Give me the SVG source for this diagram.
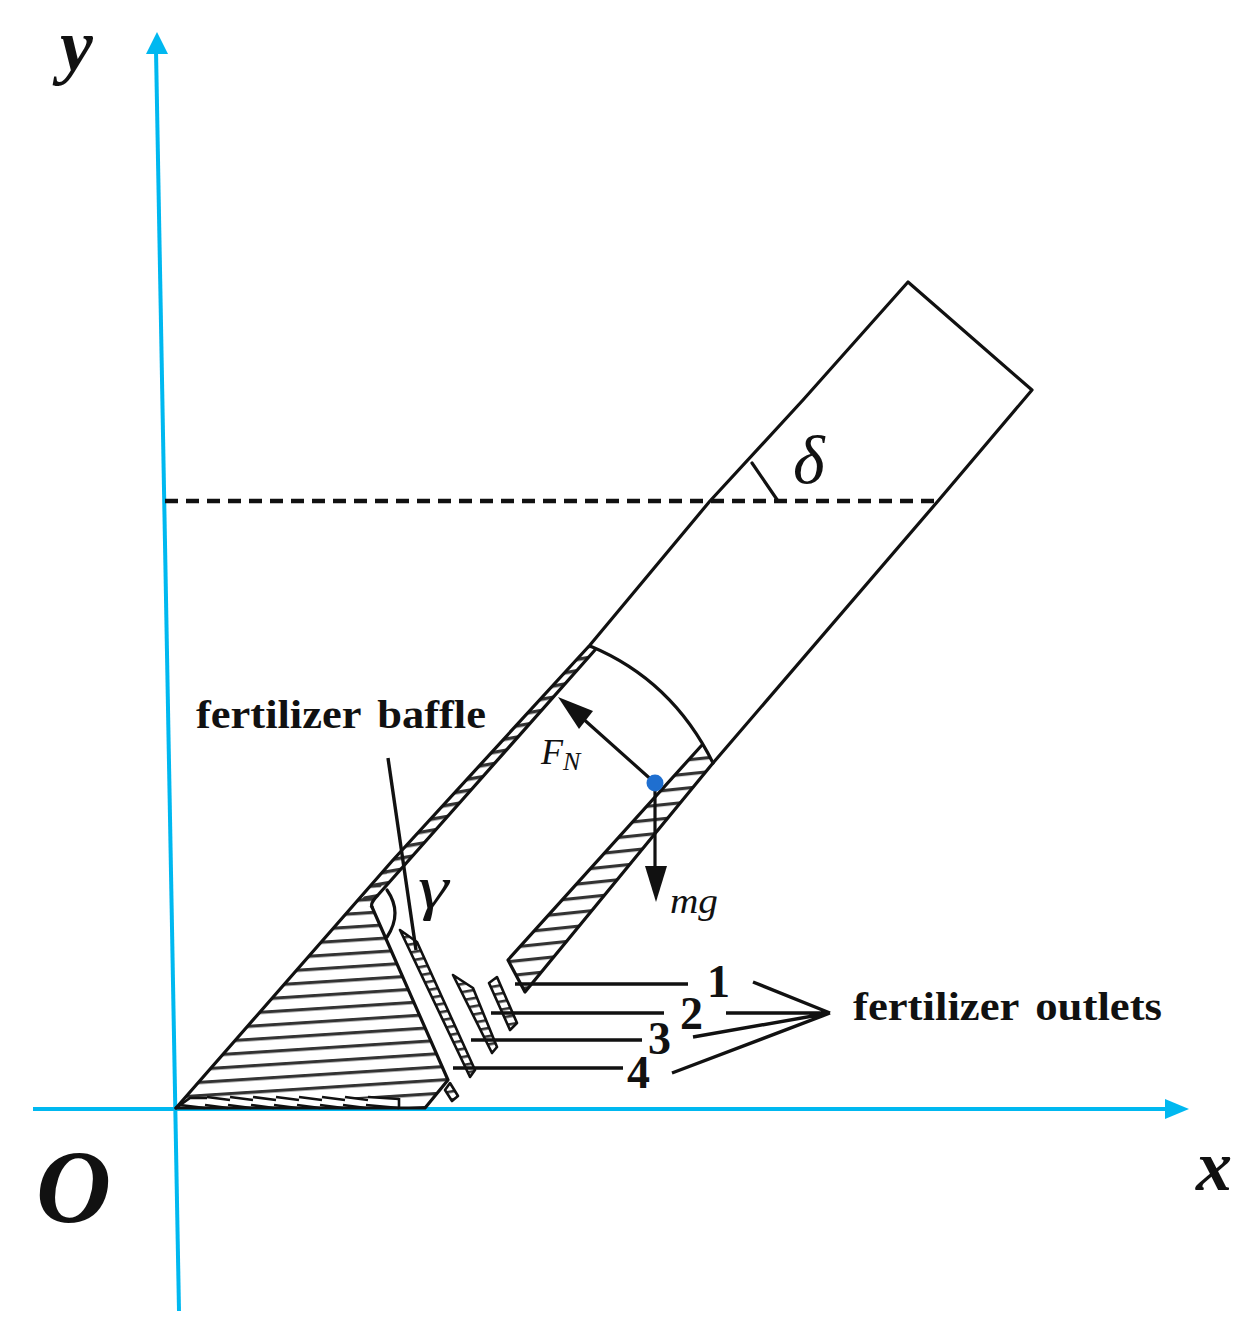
<svg xmlns="http://www.w3.org/2000/svg" width="1260" height="1342" viewBox="0 0 1260 1342">
<style>
.ax{stroke:#00b8f0;stroke-width:4;fill:none}
.ln{stroke:#111;stroke-width:3.2;fill:none;stroke-linecap:round;stroke-linejoin:round}
.th{stroke:#111;stroke-width:2.6;fill:none;stroke-linejoin:round}
.ld{stroke:#111;stroke-width:3.4;fill:none}
.lb{font-family:"Liberation Serif",serif;font-weight:bold;fill:#111}
.it{font-family:"Liberation Serif",serif;font-style:italic;fill:#111}
</style>
<defs>
<pattern id="h1" width="100" height="13.2" patternUnits="userSpaceOnUse" patternTransform="rotate(-3.7 176 1108)"><rect y="0" width="100" height="3.2" fill="#333"/></pattern>
<pattern id="h2" width="100" height="14" patternUnits="userSpaceOnUse" patternTransform="rotate(-6)"><rect width="100" height="3.2" fill="#333"/></pattern>
<pattern id="h3" width="100" height="11" patternUnits="userSpaceOnUse" patternTransform="rotate(-10)"><rect width="100" height="3.4" fill="#333"/></pattern>
<pattern id="h4" width="100" height="8" patternUnits="userSpaceOnUse" patternTransform="rotate(-10)"><rect width="100" height="2.6" fill="#333"/></pattern>
</defs>
<g id="axes">
<path class="ax" d="M179 1311 156 50"/>
<path class="ax" d="M33 1109H1170"/>
<path d="M157 32 168 54 146 54Z" fill="#00b8f0"/>
<path d="M1189 1109 1165 1099 1165 1119Z" fill="#00b8f0"/>
</g>
<g id="hopper">
<path d="M176 1108 393 860 372 907 448 1080 425 1108Z" fill="url(#h1)"/>
<path d="M178 1108 205 1098H399V1108Z" fill="#fff"/>
<path class="th" d="M176 1108 190 1098H207M399 1098V1108"/>
<path class="th" d="M207 1097 230 1100M230 1097 253 1100M253 1097 276 1100M276 1097 299 1100M299 1097 322 1100M322 1097 345 1100M345 1097 368 1100M368 1097 399 1099"/>
<path class="th" d="M180 1105 205 1108M205 1105 228 1108M228 1105 251 1108M251 1105 274 1108M274 1105 297 1108M297 1105 320 1108M320 1105 343 1108M343 1105 366 1108M366 1105 399 1108"/>
<path class="ln" d="M176 1108H425L448 1080 372 907"/>
</g>
<g id="tube">
<path d="M590 645 595 650 372 901 372 907 358 904 393 860Z" fill="url(#h3)"/>
<path d="M702 745 713 763 525 992 508 960Z" fill="url(#h2)"/>
<path class="ln" d="M176 1108 393 860 590 645 710 501 803 400 908 282 1032 390 938 501 713 763 525 992 508 960 702 745"/>
<path class="ln" d="M595 650 378 895Q370 903 372 907"/>
<path class="ln" d="M590 646Q672 680 713 763"/>
</g>
<g id="plates">
<path d="M400 930 417 942 475 1070 470 1077Z" fill="url(#h4)"/>
<path d="M453 975 473 988 497 1047 492 1053Z" fill="url(#h4)"/>
<path d="M489 983 497 977 517 1023 510 1030Z" fill="url(#h4)"/>
<path d="M445 1090 450 1083 458 1096 452 1101Z" fill="url(#h4)"/>
<path class="th" d="M400 930 417 942 475 1070 470 1077Z"/>
<path class="th" d="M453 975 473 988 497 1047 492 1053Z"/>
<path class="th" d="M489 983 497 977 517 1023 510 1030Z"/>
<path class="th" d="M445 1090 450 1083 458 1096 452 1101Z"/>
</g>
<g id="connectors">
<path class="ld" d="M515 984H688M491 1013H664M471 1040H642M453 1068H623"/>
<path class="ld" d="M753 982 830 1013M726 1013H830M693 1037 830 1013M672 1073 830 1013"/>
<path class="ld" d="M388 758 416 950"/>
<path class="ln" d="M387 890Q403 913 387 937"/>
<path class="ln" d="M752 463 778 501"/>
<path stroke="#111" stroke-width="4.5" stroke-dasharray="13 8" fill="none" d="M165 501H940"/>
</g>
<g id="forces">
<path class="ln" d="M655 783 580 716"/>
<path d="M558 697 593 711 579 729Z" fill="#111"/>
<path class="ln" d="M655 783V870"/>
<path d="M656 902 645 866H667Z" fill="#111"/>
<circle cx="655" cy="783" r="8.5" fill="#1f6fd0"/>
</g>
<g id="labels">
<text class="it" style="font-weight:bold" x="60" y="70" font-size="74">y</text>
<text class="it" style="font-weight:bold" x="1196" y="1190" font-size="72">x</text>
<text class="it" style="font-weight:bold" x="36" y="1222" font-size="104">O</text>
<text class="it" x="793" y="483" font-size="68">δ</text>
<text class="it" transform="translate(418 908) scale(1.25 1)" font-size="62" font-weight="normal">γ</text>
<text class="it" x="541" y="764" font-size="36">F<tspan font-size="26" dy="6">N</tspan></text>
<text class="it" x="670" y="913" font-size="36" textLength="48" lengthAdjust="spacingAndGlyphs">mg</text>
<text class="lb" x="196" y="728" font-size="41" word-spacing="5" textLength="290" lengthAdjust="spacingAndGlyphs">fertilizer baffle</text>
<text class="lb" x="853" y="1020" font-size="41" word-spacing="5" textLength="309" lengthAdjust="spacingAndGlyphs">fertilizer outlets</text>
<text class="lb" x="707" y="997" font-size="46">1</text>
<text class="lb" x="680" y="1029" font-size="46">2</text>
<text class="lb" x="648" y="1054" font-size="46">3</text>
<text class="lb" x="627" y="1088" font-size="46">4</text>
</g>
</svg>
